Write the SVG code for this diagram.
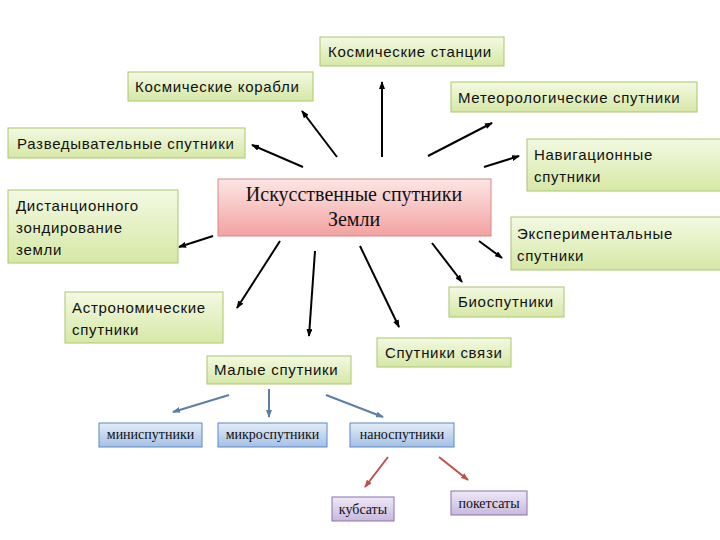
<svg xmlns="http://www.w3.org/2000/svg" width="720" height="540" viewBox="0 0 720 540">
<defs>
<linearGradient id="gG" x1="0" y1="0" x2="0" y2="1"><stop offset="0" stop-color="#f3f9e2"/><stop offset="1" stop-color="#d6e8a6"/></linearGradient>
<linearGradient id="gR" x1="0" y1="0" x2="0" y2="1"><stop offset="0" stop-color="#fde6e6"/><stop offset="1" stop-color="#f2a2a0"/></linearGradient>
<linearGradient id="gB" x1="0" y1="0" x2="0" y2="1"><stop offset="0" stop-color="#e3ecf7"/><stop offset="1" stop-color="#a4c0e6"/></linearGradient>
<linearGradient id="gP" x1="0" y1="0" x2="0" y2="1"><stop offset="0" stop-color="#efe9f6"/><stop offset="1" stop-color="#c8b8de"/></linearGradient>
<marker id="mK" markerWidth="8" markerHeight="6" refX="7" refY="3" orient="auto" markerUnits="userSpaceOnUse"><path d="M0,0 L8,3 L0,6 z" fill="#000"/></marker>
<marker id="mB" markerWidth="8" markerHeight="6" refX="7" refY="3" orient="auto" markerUnits="userSpaceOnUse"><path d="M0,0 L8,3 L0,6 z" fill="#5b7fa6"/></marker>
<marker id="mR" markerWidth="8" markerHeight="6" refX="7" refY="3" orient="auto" markerUnits="userSpaceOnUse"><path d="M0,0 L8,3 L0,6 z" fill="#c0504d"/></marker>
</defs>
<style>
.g{fill:url(#gG);stroke:#a9c66f;stroke-width:1}
.r{fill:url(#gR);stroke:#d48a88;stroke-width:1}
.b{fill:url(#gB);stroke:#5f88bf;stroke-width:1}
.p{fill:url(#gP);stroke:#8a72ab;stroke-width:1}
.t{font-family:"Liberation Sans","DejaVu Sans",sans-serif;font-size:15px;letter-spacing:0.7px;fill:#111}
.c{font-family:"Liberation Serif","DejaVu Serif",serif;font-size:20px;fill:#111;text-anchor:middle}
.s{font-family:"Liberation Serif","DejaVu Serif",serif;font-size:14px;fill:#111;text-anchor:middle}
.k{stroke:#000;stroke-width:2;fill:none;marker-end:url(#mK)}
.bl{stroke:#5b7fa6;stroke-width:2;fill:none;marker-end:url(#mB)}
.rd{stroke:#c0504d;stroke-width:2;fill:none;marker-end:url(#mR)}
</style>
<rect width="720" height="540" fill="#fff"/>
<g id="connectors">
<line class="k" x1="382" y1="157" x2="382" y2="82"/>
<line class="k" x1="337" y1="157" x2="302" y2="111"/>
<line class="k" x1="428" y1="156" x2="492" y2="123"/>
<line class="k" x1="303" y1="167" x2="252" y2="145"/>
<line class="k" x1="484" y1="167" x2="519" y2="156"/>
<line class="k" x1="213" y1="236" x2="179" y2="247"/>
<line class="k" x1="479" y1="241" x2="502" y2="258"/>
<line class="k" x1="432" y1="243" x2="462" y2="282"/>
<line class="k" x1="360" y1="246" x2="399" y2="327"/>
<line class="k" x1="315" y1="251" x2="309" y2="336"/>
<line class="k" x1="280" y1="241" x2="237" y2="308"/>
<line class="bl" x1="229" y1="395" x2="173" y2="412"/>
<line class="bl" x1="269" y1="389" x2="269" y2="417"/>
<line class="bl" x1="326" y1="395" x2="383" y2="417"/>
<line class="rd" x1="388" y1="457" x2="365" y2="487"/>
<line class="rd" x1="439" y1="457" x2="468" y2="480"/>
</g>
<g id="n-stations"><rect class="g" x="320" y="37" width="184" height="29"/><text class="t" x="328" y="57">Космические станции</text></g>
<g id="n-ships"><rect class="g" x="128" y="72" width="185" height="29"/><text class="t" x="135" y="92">Космические корабли</text></g>
<g id="n-meteo"><rect class="g" x="451" y="82" width="246" height="30"/><text class="t" x="458" y="103">Метеорологические спутники</text></g>
<g id="n-recon"><rect class="g" x="8" y="128" width="237" height="30"/><text class="t" x="17" y="149">Разведывательные спутники</text></g>
<g id="n-nav"><rect class="g" x="527" y="139" width="200" height="52"/><text class="t" x="534" y="160">Навигационные</text><text class="t" x="534" y="182">спутники</text></g>
<g id="n-center"><rect class="r" x="218" y="179" width="273" height="57"/><text class="c" x="354" y="201">Искусственные спутники</text><text class="c" x="354" y="226">Земли</text></g>
<g id="n-remote"><rect class="g" x="8" y="190" width="170" height="73"/><text class="t" x="16" y="211">Дистанционного</text><text class="t" x="16" y="233">зондирование</text><text class="t" x="16" y="255">земли</text></g>
<g id="n-exp"><rect class="g" x="511" y="217" width="216" height="53"/><text class="t" x="517" y="239">Экспериментальные</text><text class="t" x="517" y="261">спутники</text></g>
<g id="n-bio"><rect class="g" x="449" y="287" width="115" height="30"/><text class="t" x="458" y="307">Биоспутники</text></g>
<g id="n-astro"><rect class="g" x="65" y="292" width="158" height="51"/><text class="t" x="72" y="313">Астрономические</text><text class="t" x="72" y="335">спутники</text></g>
<g id="n-comm"><rect class="g" x="377" y="338" width="134" height="29"/><text class="t" x="385" y="358">Спутники связи</text></g>
<g id="n-small"><rect class="g" x="207" y="356" width="144" height="28"/><text class="t" x="214" y="375">Малые спутники</text></g>
<g id="n-mini"><rect class="b" x="99" y="423" width="103" height="24"/><text class="s" x="150.5" y="439">миниспутники</text></g>
<g id="n-micro"><rect class="b" x="218" y="423" width="109" height="24"/><text class="s" x="272.5" y="439">микроспутники</text></g>
<g id="n-nano"><rect class="b" x="350" y="423" width="104" height="24"/><text class="s" x="402" y="439">наноспутники</text></g>
<g id="n-cube"><rect class="p" x="332" y="497" width="62" height="24"/><text class="s" x="363" y="514">кубсаты</text></g>
<g id="n-pocket"><rect class="p" x="451" y="491" width="76" height="24"/><text class="s" x="489" y="508">покетсаты</text></g>
</svg>
